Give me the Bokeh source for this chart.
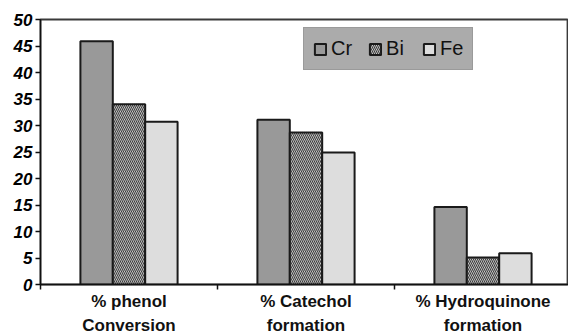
from bokeh.plotting import figure
from bokeh.models import Range1d, FixedTicker, Legend, LegendItem, LinearAxis
from bokeh.embed import file_html
from bokeh.resources import INLINE

# Reaction outcomes per catalyst (%)
groups = ["% phenol\nConversion", "% Catechol\nformation", "% Hydroquinone\nformation"]
cr = [45.9, 31.1, 14.6]
bi = [34.0, 28.7, 5.1]
fe = [30.7, 24.9, 5.9]
series_names = ["Cr", "Bi", "Fe"]

FONT = "Arial"

centers = [i + 0.5 for i in range(len(groups))]
bar_w = 0.183
first_lines = [g.split("\n")[0] for g in groups]
second_lines = [g.split("\n")[1] for g in groups]

p = figure(frame_width=528, frame_height=265, output_backend="svg", toolbar_location=None,
           x_range=Range1d(0, 528 / 177), y_range=Range1d(0, 50),
           min_border_left=40, min_border_right=0, min_border_top=19, min_border_bottom=0)
p.background_fill_color = "white"
p.border_fill_color = "white"
p.outline_line_color = "#3a3a3a"
p.outline_line_width = 1.8
p.grid.visible = False

common = dict(width=bar_w, bottom=0, line_color="#1a1a1a", line_width=2)
r_cr = p.vbar(x=[c - bar_w for c in centers], top=cr, fill_color="#999999", **common)
r_bi = p.vbar(x=centers, top=bi, fill_color="#dedede", hatch_pattern="left_diagonal_line",
              hatch_color="#3a3a3a", hatch_scale=4, hatch_weight=1.1, **common)
r_fe = p.vbar(x=[c + bar_w for c in centers], top=fe, fill_color="#dddddd", **common)

# y axis
p.yaxis.ticker = FixedTicker(ticks=list(range(0, 51, 5)))
p.yaxis.major_tick_out = 5
p.yaxis.major_tick_in = 0
p.yaxis.minor_tick_out = 0
p.yaxis.minor_tick_in = 0
p.yaxis.axis_line_color = "#111111"
p.yaxis.axis_line_width = 1.5
p.yaxis.major_tick_line_color = "#111111"
p.yaxis.major_tick_line_width = 1.5
p.yaxis.major_label_text_font = FONT
p.yaxis.major_label_text_font_style = "bold italic"
p.yaxis.major_label_text_font_size = "17px"
p.yaxis.major_label_text_color = "#000000"
p.yaxis.major_label_standoff = 3

# x axis: first label line at group centers, ticks at group boundaries
xa = p.xaxis[0]
xa.ticker = FixedTicker(ticks=centers, minor_ticks=[0, 1, 2])
xa.major_label_overrides = {c: t for c, t in zip(centers, first_lines)}
xa.major_tick_out = 0
xa.major_tick_in = 0
xa.minor_tick_out = 5
xa.minor_tick_in = 0
xa.minor_tick_line_color = "#111111"
xa.minor_tick_line_width = 1.5
xa.axis_line_color = "#111111"
xa.axis_line_width = 1.5
xa.major_label_text_font = FONT
xa.major_label_text_font_style = "bold"
xa.major_label_text_font_size = "17px"
xa.major_label_text_color = "#111111"
xa.major_label_standoff = 2

# second label line, drawn by a bare axis just below
xb = LinearAxis(ticker=FixedTicker(ticks=centers),
                major_label_overrides={c: t for c, t in zip(centers, second_lines)})
xb.axis_line_color = None
xb.major_tick_line_color = None
xb.minor_tick_line_color = None
xb.major_tick_out = 0
xb.major_tick_in = 0
xb.minor_tick_out = 0
xb.minor_tick_in = 0
xb.major_label_text_font = FONT
xb.major_label_text_font_style = "bold"
xb.major_label_text_font_size = "17px"
xb.major_label_text_color = "#111111"
xb.major_label_standoff = 2
p.add_layout(xb, "below")

legend = Legend(items=[LegendItem(label=n, renderers=[r]) for n, r in zip(series_names, [r_cr, r_bi, r_fe])],
                orientation="horizontal", location=(263, 214))
legend.background_fill_color = "#ababab"
legend.background_fill_alpha = 1
legend.border_line_color = "#8a8a8a"
legend.border_line_width = 1
legend.glyph_width = 14
legend.glyph_height = 14
legend.label_text_font = FONT
legend.label_text_font_size = "20px"
legend.label_text_color = "#111111"
legend.label_standoff = 4
legend.spacing = 16
legend.padding = 9
legend.margin = 0
p.add_layout(legend, "center")

open("out.html", "w").write(file_html(p, INLINE))
